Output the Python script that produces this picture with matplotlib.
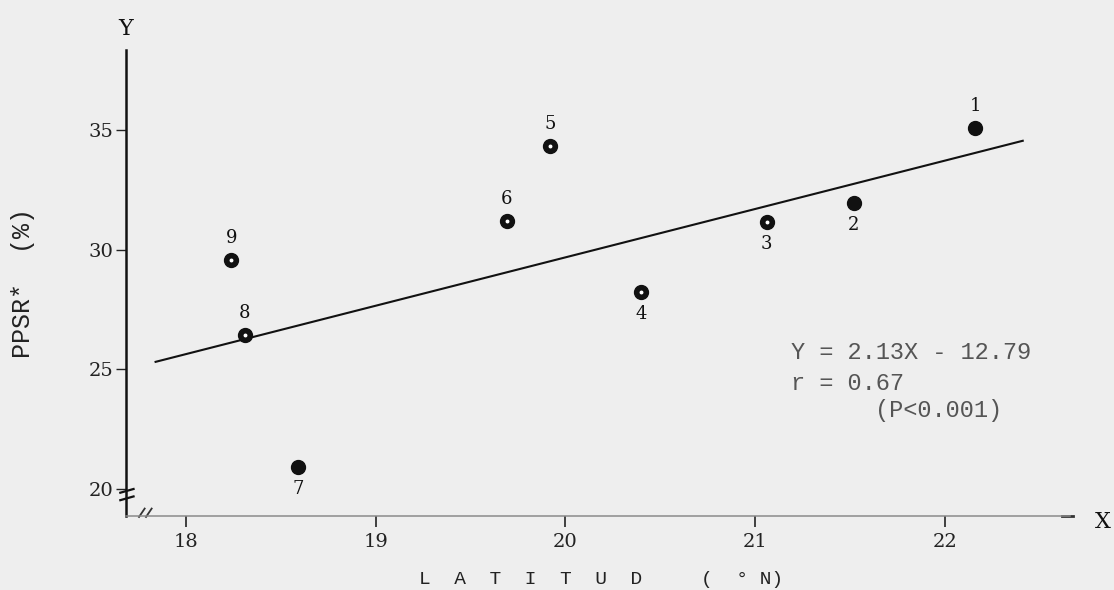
import matplotlib
matplotlib.use("Agg")
import matplotlib.pyplot as plt

# values
ids = ['1', '2', '3', '4', '5', '6', '7', '8', '9']
latitud = [22.16, 21.52, 21.06, 20.40, 19.92, 19.69, 18.59, 18.31, 18.24]
ppsr = [35.08, 31.95, 31.15, 28.22, 34.33, 31.19, 20.90, 26.42, 29.56]
label_side = ['up', 'down', 'down', 'down', 'up', 'up', 'down', 'up', 'up']
speck = [False, False, True, True, True, True, False, True, True]

fit_x = [17.84, 22.41]
fit_y = [25.30, 34.55]

xticks = [18, 19, 20, 21, 22]
yticks = [20, 25, 30, 35]

bg = '#eeeeee'
fig = plt.figure(figsize=(11.14, 5.9), dpi=100, facecolor=bg)
ax = fig.add_axes([0.1131, 0.1254, 0.8474, 0.7898], facecolor=bg)
ax.set_xlim(17.684, 22.659)
ax.set_ylim(18.849, 38.347)

for s in ['top', 'right']:
    ax.spines[s].set_visible(False)
ax.spines['left'].set_linewidth(1.8)
ax.spines['left'].set_color('#111111')
ax.spines['bottom'].set_linewidth(1.1)
ax.spines['bottom'].set_color('#8a8a8a')

ax.set_xticks(xticks)
ax.set_yticks(yticks)
ax.tick_params(axis='y', direction='out', length=7, width=1.0, pad=2,
               labelsize=14, colors='#222222')
ax.tick_params(axis='x', direction='out', length=8, width=1.2, pad=4,
               labelsize=14, colors='#222222')
for lab in ax.get_xticklabels() + ax.get_yticklabels():
    lab.set_family('DejaVu Serif')

# regression line
ax.plot(fit_x, fit_y, color='#111111', lw=1.5)

# points
ax.plot(latitud, ppsr, 'o', color='#111111', ms=10, ls='none')
for x, y, s in zip(latitud, ppsr, speck):
    if s:
        ax.plot(x, y, 'o', color='white', ms=1.8)

for t, x, y, side in zip(ids, latitud, ppsr, label_side):
    dy = 16 if side == 'up' else -16
    ax.annotate(t, (x, y), xytext=(0, dy), textcoords='offset points',
                ha='center', va='center', fontsize=13, family='DejaVu Serif',
                color='#111111')

# equation
eq_font = dict(family='Liberation Mono', fontsize=17, color='#555555', va='center')
ax.text(21.19, 25.71, 'Y = 2.13X - 12.79', **eq_font)
ax.text(21.19, 24.41, 'r = 0.67', **eq_font)
ax.text(21.63, 23.28, '(P<0.001)', **eq_font)

# axis letters
ax.text(0.0, 1.045, 'Y', transform=ax.transAxes, ha='center', va='center',
        fontsize=16, family='DejaVu Serif', color='#111111')
ax.text(1.035, -0.012, 'X', transform=ax.transAxes, ha='center', va='center',
        fontsize=16, family='DejaVu Serif', color='#111111')
ax.plot([0.992, 1.003], [0.0, 0.0], transform=ax.transAxes, color='#333333',
        lw=2, clip_on=False)

# axis breaks
for yy in [0.034, 0.050]:
    ax.plot([-0.006, 0.008], [yy, yy + 0.008], transform=ax.transAxes,
            color='#111111', lw=1.6, clip_on=False)
for xx in [0.0138, 0.0212]:
    ax.plot([xx, xx + 0.006], [-0.002, 0.016], transform=ax.transAxes,
            color='#333333', lw=1.3, clip_on=False)

ax.set_xlabel('L  A  T  I  T  U  D     (  ° N)', family='Liberation Mono',
              fontsize=14, color='#222222')
ax.xaxis.set_label_coords(0.503, -0.137)
ax.xaxis.label.set_va('center')

ax.set_ylabel('PPSR*  (%)', family='Liberation Mono', fontsize=18,
              color='#222222')
ax.yaxis.set_label_coords(-0.109, 0.5)
ax.yaxis.label.set_va('center')

fig.savefig('out.png', dpi=100, facecolor=bg)
